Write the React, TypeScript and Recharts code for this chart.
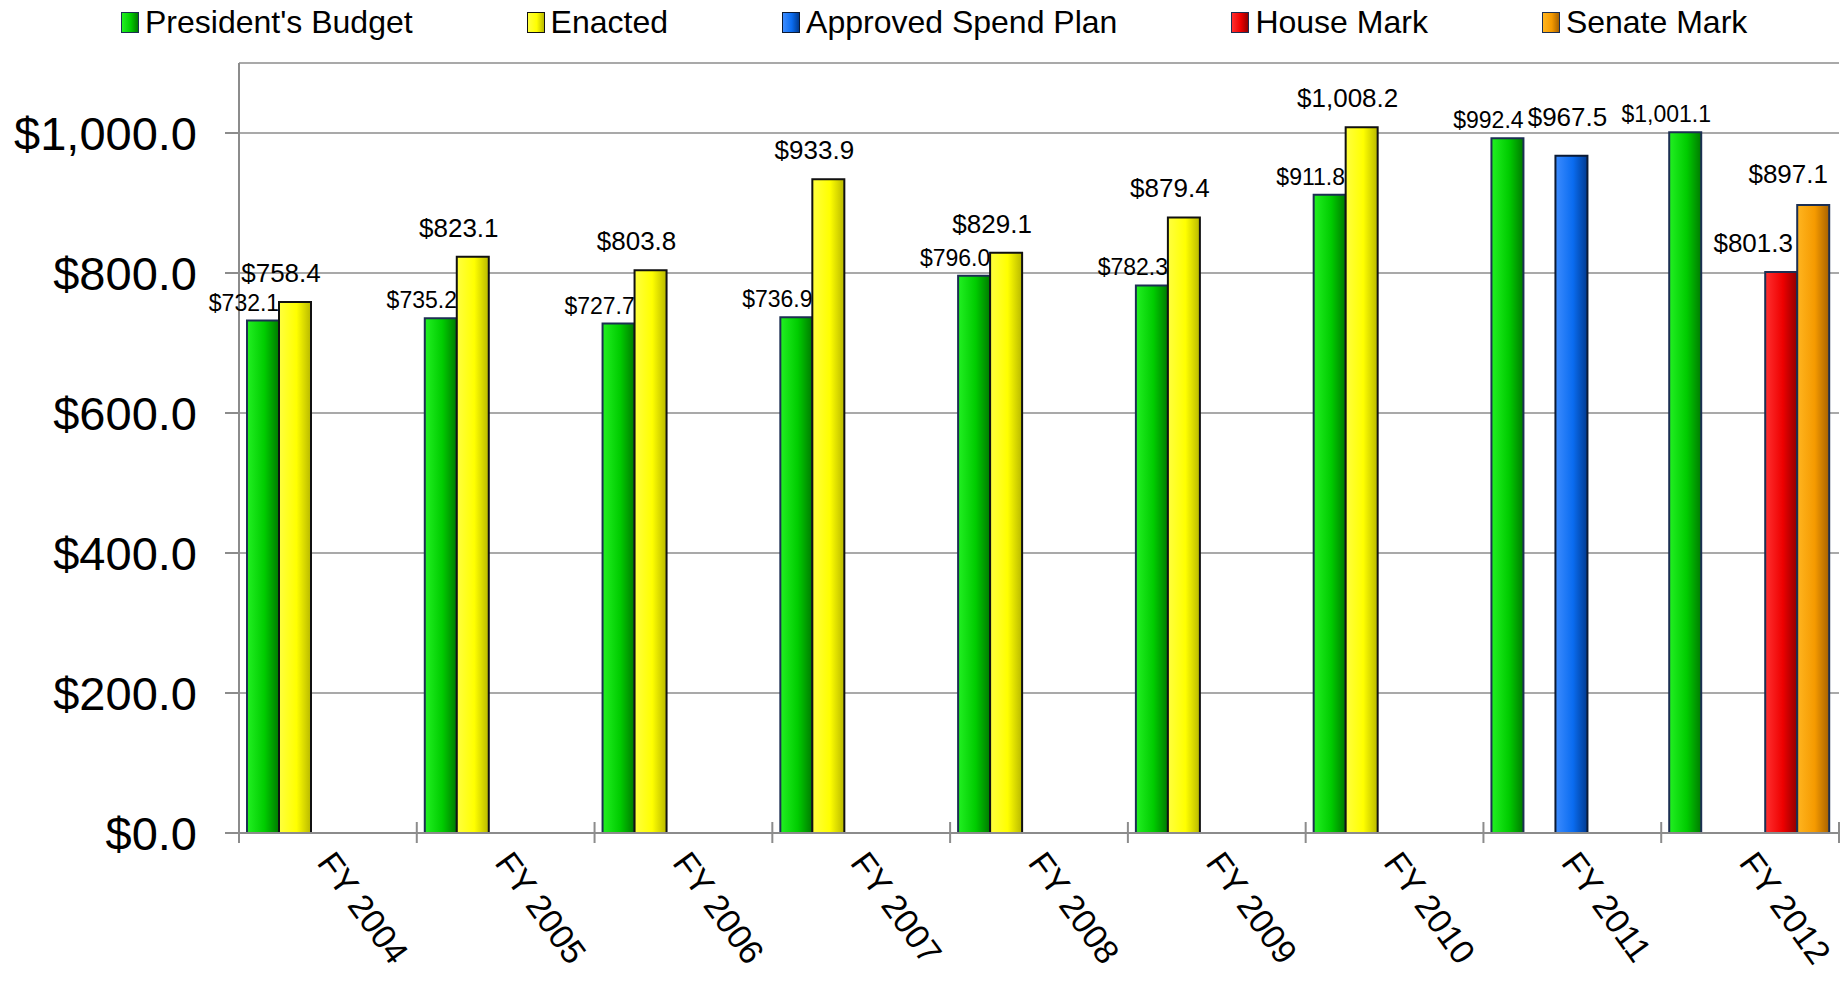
import { Bar, BarChart, CartesianGrid, LabelList, XAxis, YAxis } from "recharts";

const categories = ["FY 2004", "FY 2005", "FY 2006", "FY 2007", "FY 2008", "FY 2009", "FY 2010", "FY 2011", "FY 2012"];
const presidentsBudget = [732.1, 735.2, 727.7, 736.9, 796.0, 782.3, 911.8, 992.4, 1001.1];
const enacted = [758.4, 823.1, 803.8, 933.9, 829.1, 879.4, 1008.2, null, null];
const approvedSpendPlan = [null, null, null, null, null, null, null, 967.5, null];
const houseMark = [null, null, null, null, null, null, null, null, 801.3];
const senateMark = [null, null, null, null, null, null, null, null, 897.1];
const yTicks = [0, 200, 400, 600, 800, 1000];

const W = 1845;
const H = 984;
const MARGIN = { top: 63, right: 6, left: 0, bottom: 51 };
const Y_AXIS_W = 239;
const PLOT_W = W - MARGIN.left - MARGIN.right - Y_AXIS_W;
const BAND = PLOT_W / categories.length;
const FONT = '"Liberation Sans", Arial, sans-serif';

const data = categories.map((name, i) => ({
    name,
    pb: presidentsBudget[i],
    en: enacted[i],
    asp: approvedSpendPlan[i],
    hm: houseMark[i],
    sm: senateMark[i],
}));

const series = [
    { key: "pb", name: "President's Budget", light: "#22f022", mid: "#00cc00", dark: "#007a00", stroke: "#1c2f52", font: 23, dx: -19, dy: 10 },
    { key: "en", name: "Enacted", light: "#ffff40", mid: "#ffff00", dark: "#b8b800", stroke: "#111111", font: 26, dx: -14, dy: 20 },
    { key: "asp", name: "Approved Spend Plan", light: "#3d8cff", mid: "#0a6cf0", dark: "#003a90", stroke: "#0b1a33", font: 26, dx: -4, dy: 30 },
    { key: "hm", name: "House Mark", light: "#ff3030", mid: "#ee0000", dark: "#900000", stroke: "#1c2f52", font: 26, dx: -28, dy: 20 },
    { key: "sm", name: "Senate Mark", light: "#ffb520", mid: "#f59a00", dark: "#a86200", stroke: "#1c2f52", font: 26, dx: -25, dy: 22 },
];

const money = (v: number) =>
    "$" + v.toLocaleString("en-US", { minimumFractionDigits: 1, maximumFractionDigits: 1 });

function makeLabel(font: number, dx: number, dy: number) {
    return (props: any) => {
        const { x, y, width, value } = props;
        if (value == null) return null;
        return (
            <text x={Number(x) + Number(width) / 2 + dx} y={Number(y) - dy} textAnchor="middle"
                fontSize={font} fontFamily={FONT} fill="#000">
                {money(Number(value))}
            </text>
        );
    };
}

function XTick(props: any) {
    const { x, y, payload, index } = props;
    const last = index === categories.length - 1;
    return (
        <g>
            <line x1={x - BAND / 2} x2={x - BAND / 2} y1={y - 11} y2={y + 10} stroke="#8c8c8c" strokeWidth={2} />
            {last && <line x1={x + BAND / 2} x2={x + BAND / 2} y1={y - 11} y2={y + 10} stroke="#8c8c8c" strokeWidth={2} />}
            <text transform={`translate(${x - 12},${y + 30}) rotate(54)`} textAnchor="start"
                fontSize={34} fontFamily={FONT} fill="#000">
                {payload.value}
            </text>
        </g>
    );
}

function LegendRow() {
    return (
        <div style={{ position: "absolute", left: 121, top: 4, display: "flex", gap: 114, alignItems: "center", fontFamily: FONT, fontSize: 32, whiteSpace: "nowrap" }}>
            {series.map((s) => (
                <div key={s.key} style={{ display: "flex", alignItems: "center" }}>
                    <div style={{
                        width: 16, height: 19, marginRight: 6, border: `1px solid ${s.stroke}`,
                        background: `linear-gradient(to right, ${s.light}, ${s.mid} 55%, ${s.dark})`,
                    }} />
                    <span>{s.name}</span>
                </div>
            ))}
        </div>
    );
}

export default function App() {
    return (
        <div style={{ position: "absolute", left: 0, top: 0, width: W, height: H, background: "#fff" }}>
            <LegendRow />
            <BarChart width={W} height={H} data={data} margin={MARGIN} barCategoryGap={8} barGap={0}>
                <defs>
                    {series.map((s) => (
                        <linearGradient key={s.key} id={`g-${s.key}`} x1="0" y1="0" x2="1" y2="0">
                            <stop offset="0%" stopColor={s.light} />
                            <stop offset="55%" stopColor={s.mid} />
                            <stop offset="100%" stopColor={s.dark} />
                        </linearGradient>
                    ))}
                </defs>
                <CartesianGrid vertical={false} stroke="#8c8c8c" strokeWidth={1.5} />
                <XAxis dataKey="name" height={100} tickSize={0} tickMargin={0} tickLine={false}
                    axisLine={{ stroke: "#8c8c8c", strokeWidth: 2 }} tick={<XTick />} interval={0} />
                <YAxis width={Y_AXIS_W} domain={[0, 1100]} ticks={yTicks} tickFormatter={money}
                    tickSize={14} tickMargin={28} axisLine={{ stroke: "#8c8c8c", strokeWidth: 2 }}
                    tickLine={{ stroke: "#8c8c8c", strokeWidth: 2 }}
                    tick={{ fontSize: 47, fontFamily: FONT, fill: "#000" }} />
                {series.map((s) => (
                    <Bar key={s.key} dataKey={s.key} name={s.name} fill={`url(#g-${s.key})`}
                        stroke={s.stroke} strokeWidth={2} isAnimationActive={false}>
                        <LabelList dataKey={s.key} content={makeLabel(s.font, s.dx, s.dy)} />
                    </Bar>
                ))}
            </BarChart>
        </div>
    );
}
